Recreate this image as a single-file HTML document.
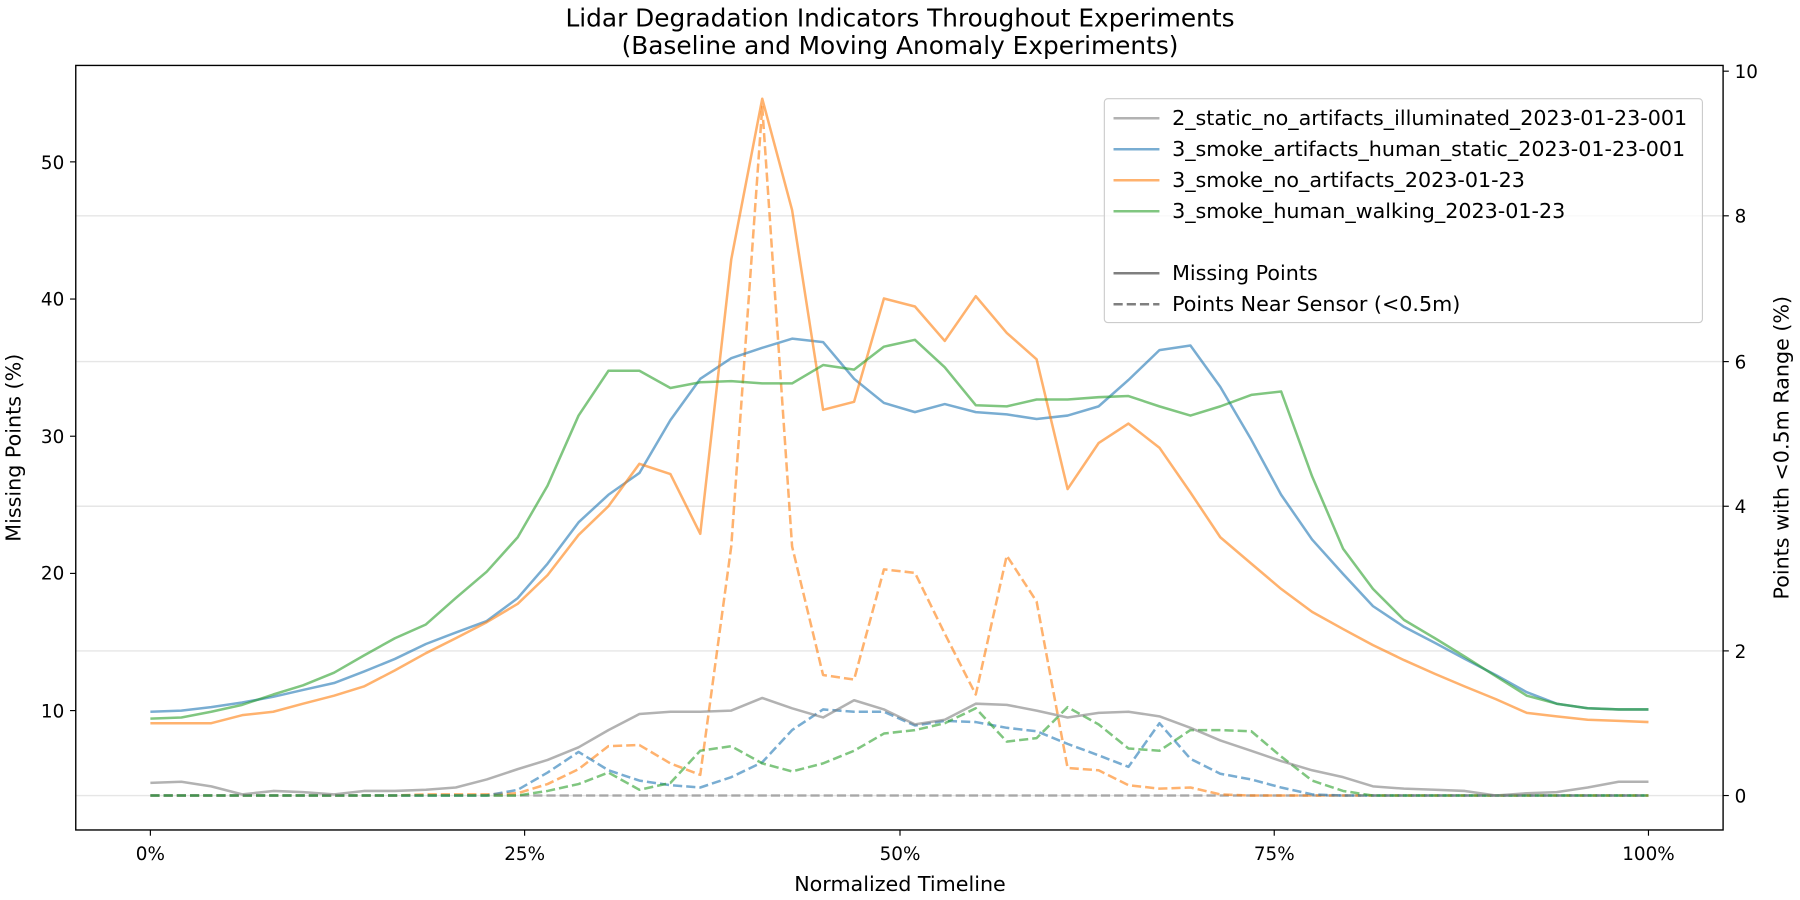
<!DOCTYPE html>
<html><head><meta charset="utf-8"><style>html,body{margin:0;padding:0;background:#fff}svg{display:block}text{font-family:"DejaVu Sans","Liberation Sans",sans-serif;fill:#000}</style></head><body>
<svg width="1800" height="900" viewBox="0 0 1568 784" preserveAspectRatio="none" xmlns="http://www.w3.org/2000/svg">
<rect width="1568" height="784" fill="#fff"/>
<g stroke="#e6e6e6" stroke-width="1.2">
<line x1="66" x2="1501" y1="188" y2="188"/><line x1="66" x2="1501" y1="315" y2="315"/><line x1="66" x2="1501" y1="441" y2="441"/><line x1="66" x2="1501" y1="567" y2="567"/><line x1="66" x2="1501" y1="693" y2="693"/>
</g>
<g fill="none" stroke-width="2.2" stroke-opacity="0.6" stroke-linejoin="round">
<polyline stroke="#7f7f7f" stroke-dasharray="8,3.5" points="131,693 1436,693"/>
<polyline stroke="#ff7f0e" stroke-dasharray="8,3.5" points="131,693 158,693 184,693 211,693 238,693 264,693 291,693 317,693 344,693 371,692 397,692 424,692 451,691 477,683 504,670 530,650 557,649 584,665 610,675 637,476 664,93 690,476 717,588 744,592 770,496 797,499 823,552 850,605 877,484 903,524 930,669 957,671 983,684 1010,687 1037,686 1063,692 1090,693 1116,693 1143,693 1170,693 1196,693 1223,693 1250,693 1276,693 1303,693 1330,693 1356,693 1383,693 1410,693 1436,693"/>
<polyline stroke="#1f77b4" stroke-dasharray="8,3.5" points="131,693 158,693 184,693 211,693 238,693 264,693 291,693 317,693 344,693 371,693 397,693 424,693 451,688 477,673 504,655 530,671 557,680 584,684 610,686 637,677 664,664 690,636 717,618 744,620 770,620 797,632 823,628 850,629 877,634 903,637 930,648 957,658 983,668 1010,630 1037,661 1063,674 1090,679 1116,686 1143,692 1170,693 1196,693 1223,693 1250,693 1276,693 1303,693 1330,693 1356,693 1383,693 1410,693 1436,693"/>
<polyline stroke="#2ca02c" stroke-dasharray="8,3.5" points="131,693 158,693 184,693 211,693 238,693 264,693 291,693 317,693 344,693 371,693 397,693 424,693 451,693 477,689 504,683 530,673 557,688 584,682 610,654 637,650 664,665 690,672 717,665 744,654 770,639 797,636 823,630 850,617 877,646 903,643 930,616 957,631 983,652 1010,654 1037,636 1063,636 1090,637 1116,659 1143,680 1170,689 1196,693 1223,693 1250,693 1276,693 1303,693 1330,693 1356,693 1383,693 1410,693 1436,693"/>
<polyline stroke="#7f7f7f" points="131,682 158,681 184,685 211,692 238,689 264,690 291,692 317,689 344,689 371,688 397,686 424,679 451,670 477,662 504,651 530,636 557,622 584,620 610,620 637,619 664,608 690,617 717,625 744,610 770,618 797,631 823,627 850,613 877,614 903,619 930,625 957,621 983,620 1010,624 1037,634 1063,645 1090,654 1116,663 1143,671 1170,677 1196,685 1223,687 1250,688 1276,689 1303,693 1330,691 1356,690 1383,686 1410,681 1436,681"/>
<polyline stroke="#1f77b4" points="131,620 158,619 184,616 211,612 238,607 264,601 291,595 317,585 344,574 371,561 397,551 424,541 451,521 477,491 504,455 530,431 557,412 584,366 610,330 637,312 664,303 690,295 717,298 744,330 770,351 797,359 823,352 850,359 877,361 903,365 930,362 957,354 983,331 1010,305 1037,301 1063,337 1090,383 1116,431 1143,470 1170,500 1196,528 1223,546 1250,560 1276,574 1303,588 1330,603 1356,613 1383,617 1410,618 1436,618"/>
<polyline stroke="#ff7f0e" points="131,630 158,630 184,630 211,623 238,620 264,613 291,606 317,598 344,584 371,569 397,556 424,542 451,526 477,501 504,466 530,441 557,404 584,413 610,465 637,226 664,86 690,183 717,357 744,350 770,260 797,267 823,297 850,258 877,290 903,313 930,426 957,386 983,369 1010,390 1037,429 1063,468 1090,491 1116,513 1143,533 1170,548 1196,562 1223,575 1250,587 1276,598 1303,609 1330,621 1356,624 1383,627 1410,628 1436,629"/>
<polyline stroke="#2ca02c" points="131,626 158,625 184,620 211,614 238,605 264,597 291,586 317,571 344,556 371,544 397,521 424,498 451,468 477,423 504,362 530,323 557,323 584,338 610,333 637,332 664,334 690,334 717,318 744,322 770,302 797,296 823,320 850,353 877,354 903,348 930,348 957,346 983,345 1010,354 1037,362 1063,354 1090,344 1116,341 1143,415 1170,478 1196,513 1223,540 1250,556 1276,572 1303,589 1330,606 1356,613 1383,617 1410,618 1436,618"/>
</g>
<rect x="66" y="57" width="1435" height="666" fill="none" stroke="#000" stroke-width="1.2"/>
<g stroke="#000" stroke-width="1">
<line x1="131" x2="131" y1="723" y2="728"/><line x1="457" x2="457" y1="723" y2="728"/><line x1="784" x2="784" y1="723" y2="728"/><line x1="1110" x2="1110" y1="723" y2="728"/><line x1="1436" x2="1436" y1="723" y2="728"/>
<line x1="61" x2="66" y1="619" y2="619"/><line x1="61" x2="66" y1="499.5" y2="499.5"/><line x1="61" x2="66" y1="380" y2="380"/><line x1="61" x2="66" y1="260.5" y2="260.5"/><line x1="61" x2="66" y1="141" y2="141"/>
<line x1="1501" x2="1506" y1="693" y2="693"/><line x1="1501" x2="1506" y1="567" y2="567"/><line x1="1501" x2="1506" y1="441" y2="441"/><line x1="1501" x2="1506" y1="315" y2="315"/><line x1="1501" x2="1506" y1="188" y2="188"/><line x1="1501" x2="1506" y1="62" y2="62"/>
</g>
<g font-size="16" text-anchor="middle">
<text x="131" y="749">0%</text><text x="457" y="749">25%</text><text x="784" y="749">50%</text><text x="1110" y="749">75%</text><text x="1436" y="749">100%</text>
<text x="784" y="776" font-size="18">Normalized Timeline</text>
<text x="784" y="23" font-size="21.6">Lidar Degradation Indicators Throughout Experiments</text>
<text x="784" y="47" font-size="21.6">(Baseline and Moving Anomaly Experiments)</text>
</g>
<g font-size="16" text-anchor="end">
<text x="56" y="625">10</text><text x="56" y="505">20</text><text x="56" y="386">30</text><text x="56" y="266">40</text><text x="56" y="147">50</text>
</g>
<g font-size="16">
<text x="1511" y="699">0</text><text x="1511" y="573">2</text><text x="1511" y="447">4</text><text x="1511" y="321">6</text><text x="1511" y="194">8</text><text x="1511" y="68">10</text>
</g>
<text font-size="18" text-anchor="middle" transform="translate(18,390) rotate(-90)">Missing Points (%)</text>
<text font-size="18" text-anchor="middle" transform="translate(1558,390) rotate(-90)">Points with &lt;0.5m Range (%)</text>
<rect x="962" y="86" width="521" height="195" rx="3" fill="#fff" fill-opacity="0.8" stroke="#ccc" stroke-width="1"/>
<g stroke-width="2.2" stroke-opacity="0.6">
<line x1="970" x2="1010" y1="103" y2="103" stroke="#7f7f7f"/>
<line x1="970" x2="1010" y1="130" y2="130" stroke="#1f77b4"/>
<line x1="970" x2="1010" y1="157" y2="157" stroke="#ff7f0e"/>
<line x1="970" x2="1010" y1="184" y2="184" stroke="#2ca02c"/>
<line x1="970" x2="1010" y1="238" y2="238" stroke="#000" stroke-opacity="0.5"/>
<line x1="970" x2="1010" y1="265" y2="265" stroke="#000" stroke-opacity="0.5" stroke-dasharray="8,3.5"/>
</g>
<g font-size="18">
<text x="1021" y="109">2_static_no_artifacts_illuminated_2023-01-23-001</text>
<text x="1021" y="136">3_smoke_artifacts_human_static_2023-01-23-001</text>
<text x="1021" y="163">3_smoke_no_artifacts_2023-01-23</text>
<text x="1021" y="190">3_smoke_human_walking_2023-01-23</text>
<text x="1021" y="244">Missing Points</text>
<text x="1021" y="271">Points Near Sensor (&lt;0.5m)</text>
</g>
</svg>
</body></html>
